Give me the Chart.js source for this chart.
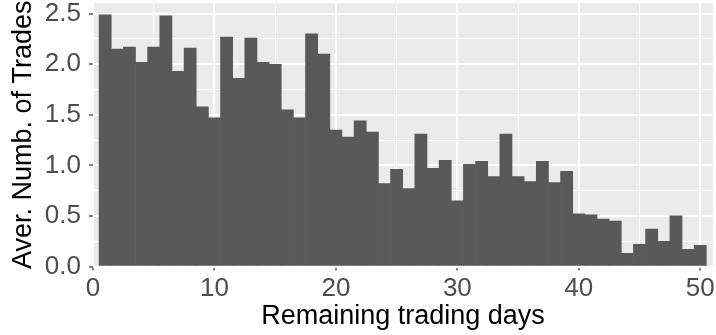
<!DOCTYPE html>
<html lang="en">
<head>
  <meta charset="UTF-8">
  <title>Average Number of Trades by Remaining Trading Days</title>
  <script src="https://cdn.jsdelivr.net/npm/chart.js"></script>
  <style>
    html, body { margin: 0; padding: 0; background: #ffffff; }
    #chart-container { position: relative; width: 716px; height: 335px; }
  </style>
</head>
<body>
  <div id="chart-container">
    <canvas id="tradesChart"></canvas>
  </div>

  <script>
    // Data
    const days = [1, 2, 3, 4, 5, 6, 7, 8, 9, 10,
                  11, 12, 13, 14, 15, 16, 17, 18, 19, 20,
                  21, 22, 23, 24, 25, 26, 27, 28, 29, 30,
                  31, 32, 33, 34, 35, 36, 37, 38, 39, 40,
                  41, 42, 43, 44, 45, 46, 47, 48, 49, 50];
    const avgTrades = [2.49, 2.15, 2.17, 2.02, 2.17, 2.48, 1.93, 2.16, 1.58, 1.47,
                       2.27, 1.86, 2.26, 2.02, 2.00, 1.55, 1.47, 2.30, 2.10, 1.35,
                       1.28, 1.44, 1.33, 0.82, 0.96, 0.77, 1.31, 0.97, 1.05, 0.65,
                       1.01, 1.04, 0.89, 1.31, 0.89, 0.84, 1.04, 0.83, 0.94, 0.52,
                       0.51, 0.47, 0.45, 0.13, 0.22, 0.37, 0.25, 0.50, 0.17, 0.21];
    const xTickLabels = [0, 10, 20, 30, 40, 50];
    const yTickLabels = [0, 0.5, 1.0, 1.5, 2.0, 2.5];

    const isMajor = (list, v) => list.some(t => Math.abs(t - v) < 1e-6);

    // major ticks plus a minor grid line half way between each pair
    function withMinor(list) {
      const out = [];
      list.forEach((v, i) => {
        out.push({ value: v });
        if (i < list.length - 1) out.push({ value: (v + list[i + 1]) / 2 });
      });
      return out;
    }

    // grey ggplot-like panel behind the grid
    const panelBackground = {
      id: 'panelBackground',
      beforeDraw(chart) {
        const { ctx, chartArea: a } = chart;
        ctx.save();
        ctx.fillStyle = '#EBEBEB';
        ctx.fillRect(a.left, a.top, a.right - a.left, a.bottom - a.top);
        ctx.restore();
      }
    };

    const fontFamily = 'Liberation Sans, Arial, sans-serif';

    const ctx = document.getElementById('tradesChart').getContext('2d');
    new Chart(ctx, {
      type: 'bar',
      data: {
        datasets: [{
          data: days.map((d, i) => ({ x: d, y: avgTrades[i] })),
          backgroundColor: '#595959',
          borderWidth: 0,
          barPercentage: 1.0,
          categoryPercentage: 1.0
        }]
      },
      plugins: [panelBackground],
      options: {
        responsive: true,
        maintainAspectRatio: false,
        animation: false,
        layout: { padding: { top: 3, right: 3, left: 0, bottom: 0 } },
        plugins: {
          legend: { display: false },
          tooltip: { enabled: false }
        },
        scales: {
          x: {
            type: 'linear',
            offset: false,
            min: 0,
            max: 51.05,
            grid: {
              offset: false,
              color: '#FFFFFF',
              lineWidth: c => isMajor(xTickLabels, c.tick.value) ? 2 : 1,
              tickLength: 4,
              tickWidth: 1.2,
              tickColor: c => isMajor(xTickLabels, c.tick.value) ? '#333333' : 'rgba(0,0,0,0)'
            },
            border: { display: false },
            ticks: {
              autoSkip: false,
              maxRotation: 0,
              padding: 3,
              color: '#4D4D4D',
              font: { family: fontFamily, size: 26 },
              callback: v => isMajor(xTickLabels, v) ? String(v) : ''
            },
            title: {
              display: true,
              text: 'Remaining trading days',
              color: '#000000',
              font: { family: fontFamily, size: 27 },
              padding: { top: 0, bottom: 2 }
            },
            afterBuildTicks: scale => { scale.ticks = withMinor(xTickLabels); },
            afterFit: scale => {
              scale.height = 68.5;
              scale.paddingLeft = 0;
              scale.paddingRight = 0;
            }
          },
          y: {
            min: 0,
            max: 2.606,
            grid: {
              color: '#FFFFFF',
              lineWidth: c => isMajor(yTickLabels, c.tick.value) ? 2 : 1,
              tickLength: 4,
              tickWidth: 1.2,
              tickColor: c => isMajor(yTickLabels, c.tick.value) ? '#333333' : 'rgba(0,0,0,0)'
            },
            border: { display: false },
            ticks: {
              autoSkip: false,
              padding: 8,
              color: '#4D4D4D',
              font: { family: fontFamily, size: 26 },
              callback: v => isMajor(yTickLabels, v) ? v.toFixed(1) : ''
            },
            title: {
              display: true,
              text: 'Aver. Numb. of Trades',
              color: '#000000',
              font: { family: fontFamily, size: 27 },
              padding: { top: 7, bottom: 0 }
            },
            afterBuildTicks: scale => { scale.ticks = withMinor(yTickLabels); },
            afterFit: scale => {
              scale.width = 93;
              scale.paddingTop = 0;
              scale.paddingBottom = 0;
            }
          }
        }
      }
    });
  </script>
</body>
</html>
